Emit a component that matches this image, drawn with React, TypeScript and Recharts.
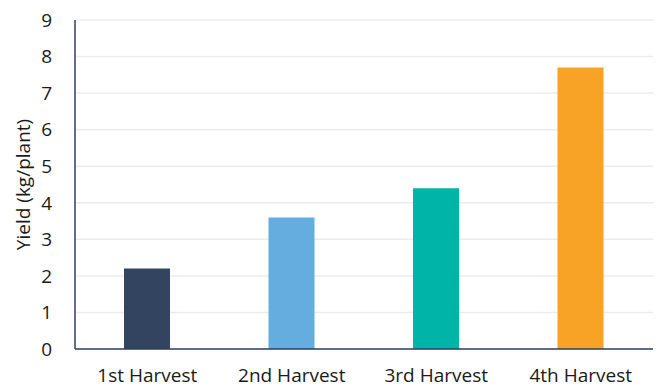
import { BarChart, Bar, XAxis, YAxis, CartesianGrid, Cell, Label } from 'recharts';

const HARVESTS = ['1st Harvest', '2nd Harvest', '3rd Harvest', '4th Harvest'];
const YIELDS = [2.2, 3.6, 4.4, 7.7];
const BAR_COLORS = ['#32445f', '#65acdf', '#00b4a8', '#f8a326'];
const Y_TICKS = [0, 1, 2, 3, 4, 5, 6, 7, 8, 9];

const data = HARVESTS.map((name, i) => ({ name, yield: YIELDS[i] }));

const FONT = '"Open Sans", Lato, sans-serif';
const AXIS_COLOR = '#2f3f5f';

export default function App() {
  return (
    <div style={{ position: 'absolute', left: 0, top: 0, width: 658, height: 390, background: '#fff' }}>
      <BarChart width={658} height={390} data={data} margin={{ top: 20, right: 5, bottom: 0, left: 0 }}>
        <CartesianGrid vertical={false} stroke="#ececec" strokeWidth={1.5} />
        <XAxis
          dataKey="name"
          height={41}
          axisLine={{ stroke: AXIS_COLOR, strokeWidth: 1.5 }}
          tickLine={false}
          tickSize={0}
          tickMargin={20}
          tick={{ fill: '#1a1a1a', fontSize: 19, fontFamily: FONT }}
          interval={0}
        />
        <YAxis
          width={75}
          domain={[0, 9]}
          ticks={Y_TICKS}
          axisLine={{ stroke: AXIS_COLOR, strokeWidth: 1.5 }}
          tickLine={false}
          tickSize={0}
          tickMargin={23}
          tick={{ fill: '#1a1a1a', fontSize: 19, fontFamily: FONT }}
        >
          <Label
            value="Yield (kg/plant)"
            angle={-90}
            position="insideLeft"
            offset={23}
            style={{ textAnchor: 'middle', fill: '#1a1a1a', fontSize: 19, fontFamily: FONT }}
          />
        </YAxis>
        <Bar dataKey="yield" barSize={46} isAnimationActive={false}>
          {data.map((d, i) => (
            <Cell key={d.name} fill={BAR_COLORS[i]} />
          ))}
        </Bar>
      </BarChart>
    </div>
  );
}
